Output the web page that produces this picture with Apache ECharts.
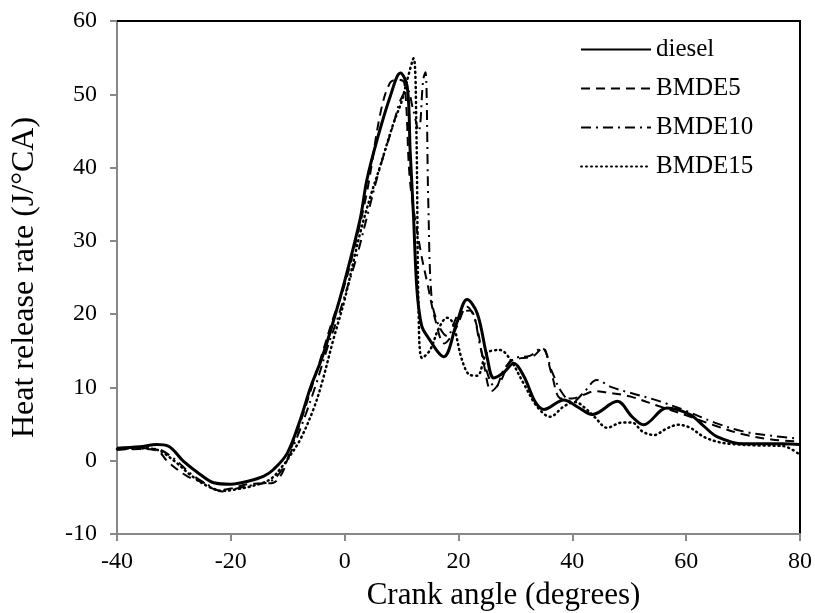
<!DOCTYPE html>
<html><head><meta charset="utf-8">
<script src="https://cdn.jsdelivr.net/npm/echarts@6/dist/echarts.min.js"></script>
<style>html,body{margin:0;padding:0;background:#fff}#c{width:815px;height:613px}</style>
</head><body><div id="c"></div>
<script>
const seriesNames = ["diesel", "BMDE5", "BMDE10", "BMDE15"];
const xTicks = [-40, -20, 0, 20, 40, 60, 80];
const yTicks = [-10, 0, 10, 20, 30, 40, 50, 60];

const dieselX = [-40,-36,-33,-31,-28.3,-25.5,-23,-20,-17,-14.2,-12.5,-10.1,-7.8,-6,-4,-2,0,2.7,3.9,5.7,8,9.8,11,11.5,12.1,12.7,13.5,14.5,17.4,19.7,21.5,23.3,25,26.2,27.9,29.7,31.5,33.5,35,38.5,41,43.5,47.9,50.5,52.5,56.6,60.7,63,65.4,70.1,77,80];
const dieselY = [1.7,1.9,2.2,2.0,-0.1,-1.8,-3.0,-3.2,-2.8,-2.1,-1.2,1.0,5.6,10,14,19,24.5,32.9,38.3,43.8,49.7,52.9,51,42.4,33.3,23.3,18.5,17,14.2,18.8,22.0,20.1,14.2,11.3,12,13.3,11.5,8,7.0,8.3,7.3,6.3,8.1,6,4.9,7.2,6.3,4.8,3.3,2.3,2.3,2.2];

const bmde5X = [-40,-36,-33,-31,-27.7,-24.8,-22.4,-20,-17,-14,-12.5,-11,-9.5,-7.8,-6,-4,-2,0,2,4,6.3,8,9.5,10.5,11.5,13.3,14.5,16,17.5,19.5,21.5,23,24.5,25.8,27.5,29,31,33,34.8,36.3,38,40,42,44,46,50,55,60,65,70,75,80];
const bmde5Y = [1.5,1.6,1.4,-0.2,-2.1,-3.0,-4.0,-3.8,-3.2,-3.1,-3.0,-1.7,1.5,5.2,9.5,14.5,19.5,24,30,37,47.5,51.6,52,51.5,38,28.8,24.3,19,16,18,21,19,13,9.5,11,13.5,14,14.2,15.4,12,8.5,8.5,9,9.5,9.3,8.8,7.5,6.2,4.8,3.6,2.9,2.6];

const bmde10X = [-40,-36,-33,-30,-27,-24,-21.5,-19,-16,-13,-11,-9,-7,-5,-3,-1,0,2,4,6.2,8.6,9.8,11,12,13,13.8,14.2,14.7,15.3,16.5,18,20,22,24,25.5,26.5,28,30,32.5,34.6,36.5,38,40,42,44.3,47,50,55,60,65,70,75,80];
const bmde10Y = [1.5,1.7,1.6,0.3,-1.8,-3.3,-4.2,-3.8,-3.3,-2.8,-1.2,2,6,10.5,15.5,20,22.5,27.5,33.5,40,46,49.2,50.6,48,45,52,53,35,22,18.5,17,20,20.5,15,11,10,12.5,14,14.3,15.4,12,9.5,8,9.3,11,10,9.3,8.2,6.8,5.2,4,3.4,3.0];

const bmde15X = [-40,-36,-33,-30,-27,-24,-21.5,-19,-16,-13,-11,-10.1,-7.8,-5.5,-4,-2,0,2.7,4.5,6.2,8.6,10,11,12.1,12.6,13,13.6,15,16.5,18,19,20.6,22,23.3,25,27.3,29.1,31.4,33.8,36.1,38.5,40.5,42.5,44,46.1,48.7,50.5,52.3,54.3,56.6,58.6,60.7,63,65.4,67.7,72,77,80];
const bmde15Y = [1.6,1.7,1.5,0,-2,-3.5,-4.1,-3.9,-3.4,-2.5,-0.8,0.1,2.9,7.0,10.6,16.5,22,31,36,40.1,46.1,49,52,54.9,45,20,14,15.1,18,19.5,18.8,13.8,11.7,11.6,14.7,15.1,13.8,10.6,7.4,6.0,7.4,8,7,5.9,4.5,5.2,5.2,4.0,3.5,4.4,4.9,4.5,3.3,2.6,2.3,2.1,2.0,0.8];

function pairs(xs, ys) { return xs.map((x, i) => [x, ys[i]]); }

const FONT = '"Liberation Serif", "Times New Roman", serif';
const chart = echarts.init(document.getElementById('c'), null, {renderer: 'canvas'});

const styles = [
  {width: 3, type: 'solid'},
  {width: 2, type: [9, 6]},
  {width: 2, type: [10, 5, 2, 5]},
  {width: 2.5, type: [1, 4], cap: 'round'}
];
const datas = [pairs(dieselX, dieselY), pairs(bmde5X, bmde5Y), pairs(bmde10X, bmde10Y), pairs(bmde15X, bmde15Y)];

chart.setOption({
  animation: false,
  backgroundColor: '#fff',
  grid: {left: 117, right: 15, top: 21, bottom: 79, containLabel: false, outerBoundsMode: 'none'},
  legend: {
    orient: 'vertical', left: 575, top: 32,
    itemWidth: 70, itemHeight: 14, itemGap: 14,
    itemStyle: {opacity: 0},
    textStyle: {fontFamily: FONT, fontSize: 25, color: '#000'},
    data: seriesNames
  },
  xAxis: [{
    type: 'value', min: xTicks[0], max: xTicks[xTicks.length - 1], interval: 20,
    name: 'Crank angle (degrees)', nameLocation: 'middle', nameGap: 46,
    nameTextStyle: {fontFamily: FONT, fontSize: 31, color: '#000', padding: [0, 0, 0, 90]},
    axisLine: {onZero: false, lineStyle: {color: '#888', width: 2}},
    axisTick: {show: true, length: 7, lineStyle: {color: '#888', width: 2}},
    axisLabel: {fontFamily: FONT, fontSize: 24, color: '#000', margin: 16},
    splitLine: {show: false}
  }, {
    type: 'value', position: 'top', min: -40, max: 80,
    axisLine: {onZero: false, lineStyle: {color: '#000', width: 2}},
    axisTick: {show: false}, axisLabel: {show: false}, splitLine: {show: false}
  }],
  yAxis: [{
    type: 'value', min: yTicks[0], max: yTicks[yTicks.length - 1], interval: 10,
    name: 'Heat release rate (J/°CA)', nameLocation: 'middle', nameGap: 76,
    nameTextStyle: {fontFamily: FONT, fontSize: 32, color: '#000'},
    axisLine: {show: true, onZero: false, lineStyle: {color: '#888', width: 2}},
    axisTick: {show: true, length: 7, lineStyle: {color: '#888', width: 2}},
    axisLabel: {fontFamily: FONT, fontSize: 24, color: '#000', margin: 20},
    splitLine: {show: false}
  }, {
    type: 'value', position: 'right', min: -10, max: 60,
    axisLine: {show: true, onZero: false, lineStyle: {color: '#000', width: 2}},
    axisTick: {show: false}, axisLabel: {show: false}, splitLine: {show: false}
  }],
  series: seriesNames.map((n, i) => ({
    name: n, type: 'line', xAxisIndex: 0, yAxisIndex: 0,
    data: datas[i], symbol: 'none', showSymbol: false,
    smooth: 0.35,
    lineStyle: Object.assign({color: '#000'}, styles[i]),
    itemStyle: {color: '#000'},
    z: 10 - i
  }))
});
</script></body></html>
